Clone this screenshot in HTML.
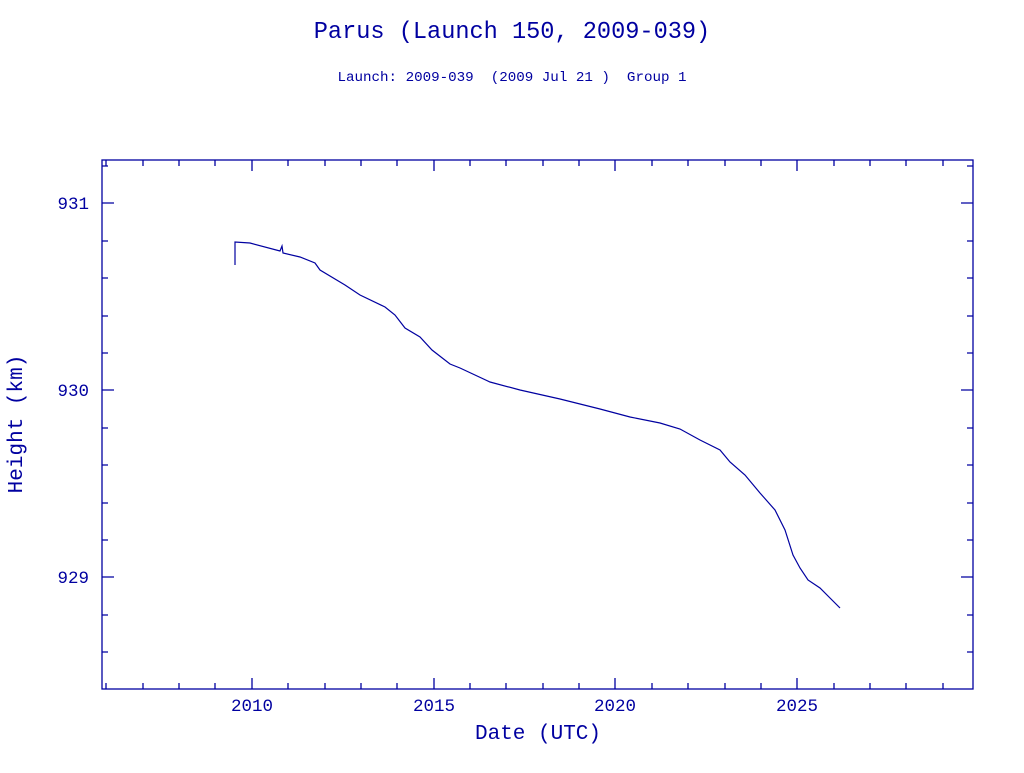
<!DOCTYPE html>
<html><head><style>body{margin:0;background:#fff}</style></head><body>
<svg width="1024" height="768" xmlns="http://www.w3.org/2000/svg" font-family="'Liberation Mono',monospace" fill="#0000a0">
<text x="512" y="38" font-size="23.6" text-anchor="middle">Parus (Launch 150, 2009-039)</text>
<text x="512" y="81" font-size="14.2" text-anchor="middle" style="white-space:pre" xml:space="preserve">Launch: 2009-039  (2009 Jul 21 )  Group 1</text>
<g stroke="#0000a0" stroke-width="1.3" fill="none">
<rect x="102" y="160" width="871" height="529"/>
<path d="M106,160v6M143,160v6M179,160v6M215,160v6M252,160v11M288,160v6M325,160v6M361,160v6M397,160v6M434,160v11M470,160v6M506,160v6M543,160v6M579,160v6M615,160v11M652,160v6M688,160v6M725,160v6M761,160v6M797,160v11M834,160v6M870,160v6M906,160v6M943,160v6
M106,689v-6M143,689v-6M179,689v-6M215,689v-6M252,689v-11M288,689v-6M325,689v-6M361,689v-6M397,689v-6M434,689v-11M470,689v-6M506,689v-6M543,689v-6M579,689v-6M615,689v-11M652,689v-6M688,689v-6M725,689v-6M761,689v-6M797,689v-11M834,689v-6M870,689v-6M906,689v-6M943,689v-6
M102,166h6M102,203h12M102,241h6M102,278h6M102,316h6M102,353h6M102,390h12M102,428h6M102,465h6M102,503h6M102,540h6M102,577h12M102,615h6M102,652h6
M973,166h-6M973,203h-12M973,241h-6M973,278h-6M973,316h-6M973,353h-6M973,390h-12M973,428h-6M973,465h-6M973,503h-6M973,540h-6M973,577h-12M973,615h-6M973,652h-6"/>
<path stroke-width="1.2" d="M235,265V242L250,243L280,251L282,246L283,253L300,257L315,263L320,270L345,285L360,295L385,307L395,315L405,328L420,337L432,350L450,364L460,368L490,382L520,390L560,399L600,409L630,417L660,423L680,429L700,440L720,450L730,462L745,475L760,493L775,510L785,530L793,555L800,568L808,580L820,588L830,598L840,608"/>
</g>
<g font-size="17.5" text-anchor="end"><text x="89" y="209">931</text><text x="89" y="396">930</text><text x="89" y="583">929</text></g>
<g font-size="17.5" text-anchor="middle"><text x="252" y="711">2010</text><text x="434" y="711">2015</text><text x="615" y="711">2020</text><text x="797" y="711">2025</text></g>
<text x="538" y="739" font-size="21" text-anchor="middle">Date (UTC)</text>
<text transform="translate(22,424) rotate(-90)" font-size="21" text-anchor="middle">Height (km)</text>
</svg>
</body></html>
